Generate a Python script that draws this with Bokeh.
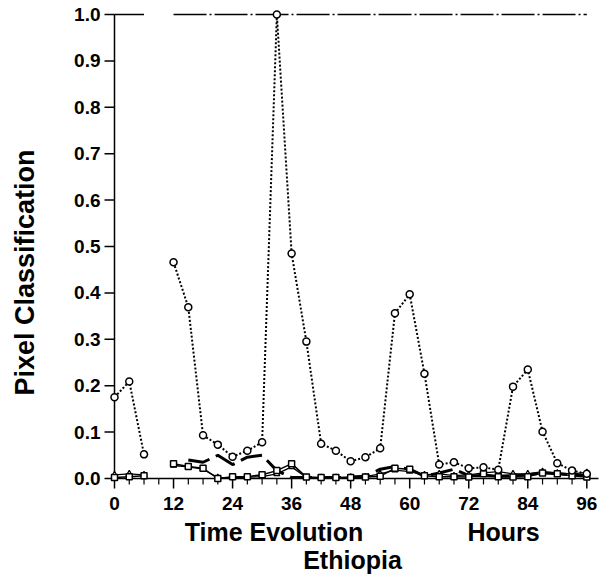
import math
from bokeh.plotting import figure
from bokeh.models import Range1d
from bokeh.core.properties import value
from bokeh.embed import file_html
from bokeh.resources import INLINE

nan = float("nan")

# Time axis (hours), one sample every 3 hours
hours = [0, 3, 6, 9, 12, 15, 18, 21, 24, 27, 30, 33, 36, 39, 42, 45, 48,
         51, 54, 57, 60, 63, 66, 69, 72, 75, 78, 81, 84, 87, 90, 93, 96]

# Dash-dot series sitting at 1.0
series_top = [1.0, 1.0, 1.0, nan, 1.0, 1.0, 1.0, 1.0, 1.0, 1.0, 1.0, 1.0, 1.0, 1.0, 1.0, 1.0, 1.0,
              1.0, 1.0, 1.0, 1.0, 1.0, 1.0, 1.0, 1.0, 1.0, 1.0, 1.0, 1.0, 1.0, 1.0, 1.0, 1.0]

# Dotted series with open circles
series_dotted = [0.175, 0.209, 0.052, nan, 0.466, 0.369, 0.093, 0.073, 0.047, 0.06, 0.078, 1.0,
                 0.485, 0.295, 0.075, 0.06, 0.037, 0.046, 0.065, 0.356, 0.397, 0.226, 0.03, 0.035,
                 0.022, 0.024, 0.019, 0.198, 0.235, 0.101, 0.033, 0.017, 0.01]

# Thick long-dash series
series_dash = [nan, nan, nan, nan, nan, 0.04, 0.035, 0.05, 0.03, 0.046, 0.05, 0.017,
               0.002, 0.002, 0.002, 0.002, 0.003, 0.005, 0.02, 0.026, 0.02, 0.005, 0.012, 0.02,
               0.006, 0.006, 0.005, 0.006, 0.008, 0.012, 0.01, 0.008, 0.006]

# Thin solid series with squares
series_sq = [0.002, 0.004, 0.006, nan, 0.032, 0.026, 0.022, 0.0, 0.004, 0.004, 0.008, 0.017,
             0.032, 0.003, 0.002, 0.002, 0.002, 0.003, 0.005, 0.022, 0.02, 0.006, 0.004, 0.004,
             0.003, 0.01, 0.004, 0.003, 0.004, 0.012, 0.01, 0.006, 0.003]

# Thin solid series with triangles
series_tri = [0.008, 0.01, 0.008, nan, 0.028, 0.025, 0.02, 0.002, 0.002, 0.003, 0.004, 0.01,
              0.025, 0.002, 0.002, 0.002, 0.003, 0.004, 0.01, 0.018, 0.015, 0.008, 0.01, 0.006,
              0.008, 0.012, 0.015, 0.01, 0.01, 0.015, 0.012, 0.01, 0.013]

# Axis ticks and labels
x_ticks = [0, 12, 24, 36, 48, 60, 72, 84, 96]
x_tick_labels = ["0", "12", "24", "36", "48", "60", "72", "84", "96"]
y_ticks = [0.0, 0.1, 0.2, 0.3, 0.4, 0.5, 0.6, 0.7, 0.8, 0.9, 1.0]
y_tick_labels = ["0.0", "0.1", "0.2", "0.3", "0.4", "0.5", "0.6", "0.7", "0.8", "0.9", "1.0"]
x_title_1 = "Time Evolution"
x_title_2 = "Hours"
x_title_3 = "Ethiopia"
y_title = "Pixel Classification"

FONT = value("Liberation Sans")

# pixel geometry of the data area
W, H = 600, 580
X0_PX, X_PER = 114.0, 4.92      # pixel of hour 0, pixels per hour
Y0_PX, Y_PER = 478.0, 464.0     # pixel of value 0, pixels per unit


def hx(px):  # horizontal pixel offset -> hours
    return px / X_PER


def vy(px):  # vertical pixel offset -> value units
    return px / Y_PER


p = figure(width=W, height=H, output_backend="svg", toolbar_location=None,
           x_axis_location=None, y_axis_location=None,
           x_range=Range1d(-X0_PX / X_PER, (W - X0_PX) / X_PER),
           y_range=Range1d(-(H - Y0_PX) / Y_PER, Y0_PX / Y_PER),
           min_border=0)
p.outline_line_color = None
p.grid.visible = False
p.background_fill_color = "white"
p.border_fill_color = "white"

# axis lines
p.segment(x0=[0], y0=[0], x1=[hx(598 - X0_PX)], y1=[0], line_color="black", line_width=1.5)
p.segment(x0=[0], y0=[0], x1=[0], y1=[1.0], line_color="black", line_width=1.5)

# x ticks: major every 12 h, minor at every sample hour
minor_x = [h for h in hours if h not in x_ticks]
p.segment(x0=x_ticks, y0=[0] * len(x_ticks), x1=x_ticks, y1=[-vy(10)] * len(x_ticks),
          line_color="black", line_width=1.5)
p.segment(x0=minor_x, y0=[0] * len(minor_x), x1=minor_x, y1=[-vy(6)] * len(minor_x),
          line_color="black", line_width=1.2)
p.text(x=x_ticks, y=[-vy(25)] * len(x_ticks), text=x_tick_labels, text_align="center",
       text_baseline="middle", text_font=FONT, text_font_style="bold",
       text_font_size="19px", text_color="black")

# y ticks
p.segment(x0=[0] * len(y_ticks), y0=y_ticks, x1=[-hx(10)] * len(y_ticks), y1=y_ticks,
          line_color="black", line_width=1.5)
p.text(x=[-hx(14)] * len(y_ticks), y=y_ticks, text=y_tick_labels,
       text_align="right", text_baseline="middle", text_font=FONT,
       text_font_style="bold", text_font_size="19px", text_color="black")

# series
p.line(hours, series_top, line_color="black", line_width=1.5, line_dash="33 3 2 3")
p.line(hours, series_dash, line_color="black", line_width=3, line_dash="22 7")
p.line(hours, series_tri, line_color="black", line_width=1.3)
p.scatter(hours, series_tri, marker="triangle", size=6, fill_color="white",
          line_color="black", line_width=1.2)
p.line(hours, series_sq, line_color="black", line_width=1.5)
p.scatter(hours, series_sq, marker="square", size=6, fill_color="white",
          line_color="black", line_width=1.5)
p.line(hours, series_dotted, line_color="black", line_width=2, line_dash="2 2")
p.scatter(hours, series_dotted, marker="circle", size=7, fill_color="white",
          line_color="black", line_width=1.5)

# titles
p.text(x=[hx(273.5 - X0_PX)], y=[-vy(531 - Y0_PX)], text=[x_title_1], text_align="center",
       text_baseline="middle", text_font=FONT, text_font_style="bold",
       text_font_size="25px", text_color="black")
p.text(x=[hx(503 - X0_PX)], y=[-vy(531 - Y0_PX)], text=[x_title_2], text_align="center",
       text_baseline="middle", text_font=FONT, text_font_style="bold",
       text_font_size="25px", text_color="black")
p.text(x=[hx(352 - X0_PX)], y=[-vy(559 - Y0_PX)], text=[x_title_3], text_align="center",
       text_baseline="middle", text_font=FONT, text_font_style="bold",
       text_font_size="25px", text_color="black")
p.text(x=[hx(24 - X0_PX)], y=[vy(Y0_PX - 272)], text=[y_title], angle=math.pi / 2,
       text_align="center", text_baseline="middle", text_font=FONT,
       text_font_style="bold", text_font_size="27px", text_color="black")

open("out.html", "w").write(file_html(p, INLINE))
